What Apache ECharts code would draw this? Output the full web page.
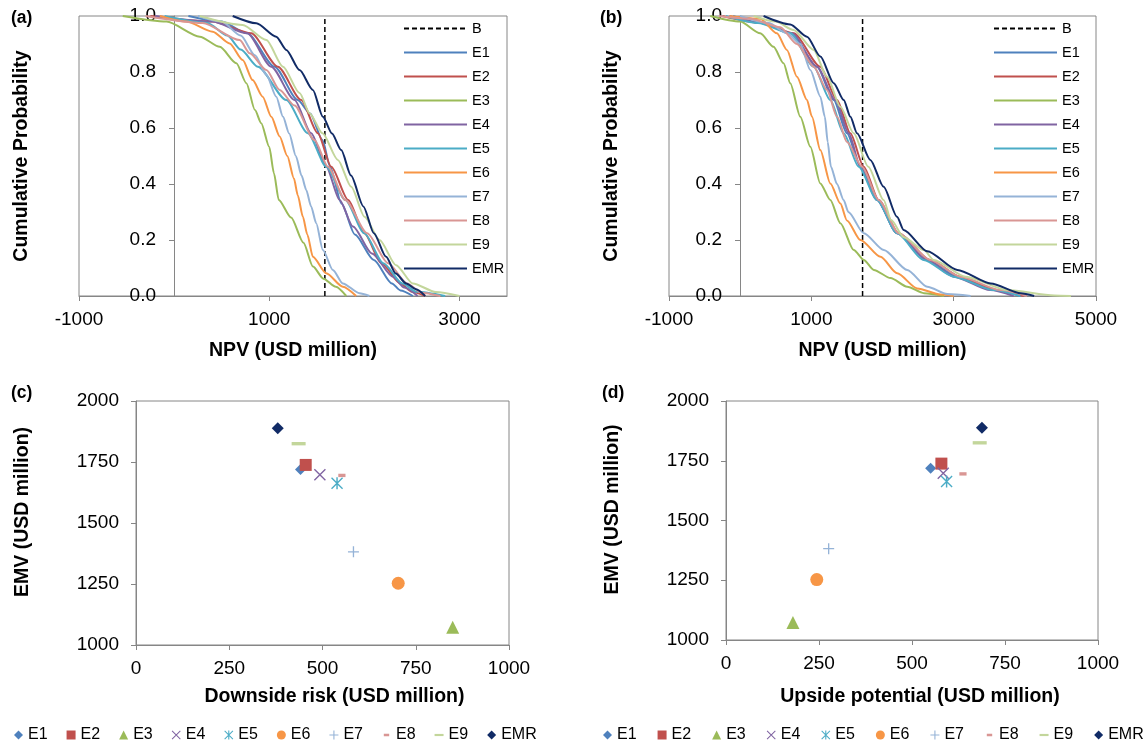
<!DOCTYPE html>
<html>
<head>
<meta charset="utf-8">
<script src="https://cdn.jsdelivr.net/npm/echarts@6/dist/echarts.min.js"></script>
<style>
  html, body { margin: 0; padding: 0; background: #fff; }
  #main { width: 1148px; height: 747px; }
</style>
</head>
<body>
<div id="main"></div>
<script>
const chart = echarts.init(document.getElementById('main'))

// series names and colours (Excel 2007 palette)
const names = ['E1', 'E2', 'E3', 'E4', 'E5', 'E6', 'E7', 'E8', 'E9', 'EMR']
const colors = ['#4F81BD', '#C0504D', '#9BBB59', '#8064A2', '#4BACC6', '#F79646', '#95B3D7', '#D99694', '#C3D69B', '#112B66']

// baseline NPV (dashed line B)
const baseA = 1585
const baseB = 1720

// panel (a): [NPV, cumulative probability]
const aE1 = [[150, 1], [500, 0.98], [770, 0.938], [1056, 0.819], [1300, 0.7], [1430, 0.652], [1560, 0.557], [1640, 0.462], [1760, 0.33], [1900, 0.22], [2100, 0.129], [2290, 0.045], [2380, 0.02], [2510, 0]]
const aE2 = [[-250, 1], [400, 0.98], [811, 0.938], [1091, 0.819], [1336, 0.7], [1511, 0.581], [1652, 0.462], [1830, 0.343], [2000, 0.224], [2180, 0.117], [2380, 0.045], [2500, 0.015], [2640, 0]]
const aE3 = [[-540, 1], [-80, 0.98], [270, 0.926], [480, 0.89], [655, 0.831], [760, 0.76], [850, 0.664], [916, 0.617], [1000, 0.533], [1050, 0.438], [1100, 0.343], [1230, 0.28], [1360, 0.19], [1460, 0.105], [1570, 0.062], [1700, 0.033], [1810, 0]]
const aE4 = [[-200, 1], [400, 0.98], [770, 0.938], [1021, 0.819], [1266, 0.7], [1441, 0.581], [1600, 0.462], [1740, 0.343], [1880, 0.248], [2080, 0.152], [2300, 0.069], [2420, 0.03], [2560, 0]]
const aE5 = [[-100, 1], [350, 0.975], [560, 0.93], [700, 0.88], [880, 0.819], [1180, 0.7], [1406, 0.581], [1600, 0.462], [1800, 0.343], [2000, 0.224], [2200, 0.117], [2400, 0.045], [2550, 0.015], [2850, 0]]
const aE6 = [[-150, 1], [130, 0.98], [406, 0.944], [584, 0.902], [721, 0.843], [826, 0.771], [931, 0.712], [1022, 0.64], [1110, 0.57], [1190, 0.5], [1260, 0.42], [1300, 0.36], [1354, 0.283], [1400, 0.22], [1459, 0.14], [1599, 0.081], [1774, 0.033], [1914, 0]]
const aE7 = [[250, 1], [500, 0.98], [700, 0.93], [850, 0.86], [970, 0.79], [1074, 0.712], [1145, 0.64], [1210, 0.58], [1280, 0.5], [1340, 0.43], [1389, 0.379], [1440, 0.32], [1494, 0.26], [1564, 0.164], [1669, 0.093], [1774, 0.045], [1949, 0.01], [2054, 0]]
const aE8 = [[-300, 1], [300, 0.975], [690, 0.914], [795, 0.867], [970, 0.807], [1110, 0.736], [1266, 0.68], [1476, 0.557], [1617, 0.462], [1800, 0.343], [2030, 0.224], [2250, 0.117], [2450, 0.045], [2600, 0.012], [2800, 0]]
const aE9 = [[270, 1], [721, 0.968], [970, 0.914], [1145, 0.819], [1319, 0.725], [1424, 0.653], [1560, 0.581], [1722, 0.486], [1862, 0.39], [2002, 0.283], [2160, 0.2], [2334, 0.11], [2509, 0.045], [2753, 0.014], [3000, 0]]
const aEMR = [[616, 1], [865, 0.974], [1074, 0.926], [1180, 0.879], [1319, 0.807], [1459, 0.736], [1564, 0.64], [1660, 0.58], [1757, 0.521], [1860, 0.43], [1990, 0.32], [2100, 0.224], [2229, 0.14], [2330, 0.08], [2440, 0.045], [2544, 0.024], [2640, 0]]

// panel (b)
const bE1 = [[-100, 1], [300, 0.975], [705, 0.938], [1080, 0.819], [1314, 0.7], [1501, 0.581], [1689, 0.462], [1923, 0.343], [2204, 0.224], [2625, 0.129], [3047, 0.069], [3562, 0.021], [3937, 0]]
const bE2 = [[-250, 1], [300, 0.975], [752, 0.938], [1126, 0.819], [1361, 0.7], [1548, 0.581], [1735, 0.462], [1946, 0.343], [2227, 0.224], [2672, 0.129], [3094, 0.069], [3609, 0.021], [3984, 0]]
const bE3 = [[-420, 1], [0, 0.98], [282, 0.938], [469, 0.89], [610, 0.831], [704, 0.76], [845, 0.64], [986, 0.533], [1126, 0.402], [1267, 0.343], [1408, 0.26], [1596, 0.164], [1737, 0.129], [1878, 0.093], [2113, 0.064], [2347, 0.033], [2582, 0.01], [2864, 0]]
const bE4 = [[-150, 1], [300, 0.975], [728, 0.938], [1080, 0.819], [1337, 0.7], [1525, 0.581], [1689, 0.462], [1923, 0.343], [2204, 0.224], [2625, 0.129], [3000, 0.069], [3515, 0.021], [3843, 0]]
const bE5 = [[-200, 1], [250, 0.975], [705, 0.938], [1033, 0.819], [1267, 0.7], [1454, 0.581], [1665, 0.462], [1923, 0.343], [2204, 0.224], [2578, 0.129], [3000, 0.069], [3562, 0.021], [3937, 0]]
const bE6 = [[-150, 1], [282, 0.99], [517, 0.938], [657, 0.879], [798, 0.783], [939, 0.7], [1009, 0.64], [1126, 0.521], [1267, 0.402], [1408, 0.33], [1500, 0.27], [1690, 0.2], [1972, 0.14], [2207, 0.081], [2488, 0.027], [2817, 0.005], [3000, 0]]
const bE7 = [[0, 1], [400, 0.975], [660, 0.938], [845, 0.9], [986, 0.807], [1127, 0.712], [1190, 0.64], [1230, 0.55], [1275, 0.462], [1360, 0.4], [1454, 0.343], [1520, 0.3], [1737, 0.224], [2019, 0.164], [2347, 0.093], [2629, 0.033], [2911, 0.007], [3239, 0]]
const bE8 = [[-300, 1], [141, 0.99], [563, 0.96], [798, 0.9], [1033, 0.819], [1221, 0.736], [1361, 0.64], [1501, 0.55], [1712, 0.462], [1946, 0.343], [2227, 0.224], [2672, 0.129], [3094, 0.069], [3656, 0.021], [4030, 0]]
const bE9 = [[190, 1], [500, 0.98], [751, 0.95], [1033, 0.879], [1221, 0.783], [1408, 0.676], [1595, 0.581], [1800, 0.462], [2016, 0.343], [2120, 0.271], [2300, 0.21], [2582, 0.164], [2719, 0.129], [3170, 0.069], [3756, 0.021], [4413, 0.002], [4648, 0]]
const bEMR = [[329, 1], [704, 0.97], [939, 0.926], [1127, 0.855], [1315, 0.76], [1455, 0.7], [1549, 0.64], [1642, 0.581], [1829, 0.486], [2016, 0.39], [2204, 0.283], [2297, 0.236], [2629, 0.16], [3052, 0.093], [3521, 0.045], [3944, 0.01], [4131, 0]]

// panels (c) and (d), order E1..E9, EMR
const emv = [1719, 1738, 1073, 1698, 1663, 1253, 1382, 1695, 1825, 1888]
const downside = [441, 455, 849, 493, 539, 703, 583, 552, 436, 380]
const upside = [550, 579, 180, 584, 593, 244, 276, 637, 682, 688]

const curvesA = [aE1, aE2, aE3, aE4, aE5, aE6, aE7, aE8, aE9, aEMR]
const curvesB = [bE1, bE2, bE3, bE4, bE5, bE6, bE7, bE8, bE9, bEMR]

// marker shapes
const symX = 'path://M0,0.8L0.8,0L10,9.2L9.2,10Z M9.2,0L10,0.8L0.8,10L0,9.2Z'
const symStar = symX + ' M4.4,0L5.6,0L5.6,10L4.4,10Z'
const symPlus = 'path://M4.4,0h1.2v4.4h4.4v1.2h-4.4v4.4h-1.2v-4.4h-4.4v-1.2h4.4z'
const symDashS = 'path://M0,0M10,10M2,3.6h6v2.8h-6z'
const symDashL = 'path://M0,0M10,10M0,3.8h10v2.4h-10z'
const symbols = ['diamond', 'rect', 'triangle', symX, symStar, 'circle', symPlus, symDashS, symDashL, 'diamond']
const symSizes = [11, 12, 13, 12, 12, 13, 11, 12, 14, 12]

const font = 'Liberation Sans, Arial, sans-serif'
const axisGray = '#868686'
const strip = n => n.slice(2)

const series = []
function addCurves (p, curves, base, idx) {
  series.push({
    name: p + 'B', type: 'line', xAxisIndex: idx, yAxisIndex: idx,
    data: [[base, 0], [base, 1]], symbol: 'none',
    lineStyle: { color: '#000', width: 1.5, type: [5, 3] },
    itemStyle: { color: '#000' }
  })
  curves.forEach((c, i) => {
    series.push({
      name: p + names[i], type: 'line', xAxisIndex: idx, yAxisIndex: idx,
      data: c, symbol: 'none', smooth: 0.25, smoothMonotone: 'x',
      lineStyle: { color: colors[i], width: 2 },
      itemStyle: { color: colors[i] }
    })
  })
}
function addPoints (p, xs, idx) {
  names.forEach((n, i) => {
    series.push({
      name: p + n, type: 'scatter', xAxisIndex: idx, yAxisIndex: idx,
      data: [[xs[i], emv[i]]], symbol: symbols[i], symbolSize: symSizes[i],
      itemStyle: { color: colors[i], opacity: 1 }
    })
  })
}
addCurves('a:', curvesA, baseA, 0)
addCurves('b:', curvesB, baseB, 1)
addPoints('c:', downside, 2)
addPoints('d:', upside, 3)

const labelStyle = { fontSize: 19, color: '#000', fontFamily: font }
const nameStyle = { fontSize: 19.5, fontWeight: 'bold', color: '#000', fontFamily: font }
const lineAxis = { lineStyle: { color: axisGray, width: 1 } }
const tick = { length: 5, lineStyle: { color: axisGray } }

function npvAxis (idx, max) {
  return {
    type: 'value', gridIndex: idx, min: -1000, max: max, interval: 2000,
    name: 'NPV (USD million)', nameLocation: 'middle', nameGap: 45, nameTextStyle: nameStyle,
    axisLine: lineAxis, axisTick: tick, splitLine: { show: false },
    axisLabel: Object.assign({ margin: 14, showMaxLabel: max === 5000, formatter: v => String(v) }, labelStyle)
  }
}
// y axis sits at NPV = 0, so it is shifted inside the plot box
function probAxis (idx, shift, gap) {
  return {
    type: 'value', gridIndex: idx, min: 0, max: 1, interval: 0.2, offset: -shift,
    name: 'Cumulative Probability', nameLocation: 'middle', nameRotate: 90, nameGap: gap, nameTextStyle: nameStyle,
    axisLine: Object.assign({ onZero: false }, lineAxis), axisTick: tick, splitLine: { show: false },
    axisLabel: Object.assign({ margin: 18, formatter: v => v.toFixed(1) }, labelStyle)
  }
}
function riskAxis (idx, name, gap, shift) {
  return {
    type: 'value', gridIndex: idx, min: 0, max: 1000, interval: 250,
    name: name, nameLocation: 'middle', nameGap: gap,
    nameTextStyle: Object.assign({ padding: [0, 0, 0, shift] }, nameStyle),
    axisLine: lineAxis, axisTick: tick, splitLine: { show: false },
    axisLabel: Object.assign({ margin: 14, formatter: v => String(v) }, labelStyle)
  }
}
function emvAxis (idx, gap) {
  return {
    type: 'value', gridIndex: idx, min: 1000, max: 2000, interval: 250,
    name: 'EMV (USD million)', nameLocation: 'middle', nameRotate: 90, nameGap: gap,
    nameTextStyle: Object.assign({ padding: [0, 0, 0, 22] }, nameStyle),
    axisLine: lineAxis, axisTick: tick, splitLine: { show: false },
    axisLabel: Object.assign({ margin: 17, formatter: v => String(v) }, labelStyle)
  }
}

function panelTitle (t, left, top) {
  return { text: t, left: left, top: top, padding: 0, textStyle: { fontSize: 17.5, fontWeight: 'bold', color: '#000', fontFamily: font } }
}
function lineLegend (p, left) {
  return {
    orient: 'vertical', left: left, top: 21, padding: 0, itemWidth: 63, itemHeight: 14, itemGap: 9,
    selectedMode: false, data: ['B'].concat(names).map(n => p + n), formatter: strip,
    itemStyle: { opacity: 0 },
    textStyle: { fontSize: 14.5, color: '#000', fontFamily: font }
  }
}
function pointLegend (p, left, gap) {
  return {
    orient: 'horizontal', left: left, top: 727, padding: 0, itemWidth: 9, itemHeight: 9, itemGap: gap,
    selectedMode: false, data: names.map(n => p + n), formatter: strip,
    textStyle: { fontSize: 16, color: '#000', fontFamily: font }
  }
}

const gridBox = { show: true, borderColor: axisGray, borderWidth: 1, backgroundColor: 'transparent', outerBoundsMode: 'none', containLabel: false }

const option = {
  animation: false,
  textStyle: { fontFamily: font },
  title: [
    panelTitle('(a)', 11, 9),
    panelTitle('(b)', 600, 9),
    panelTitle('(c)', 11, 384),
    panelTitle('(d)', 602, 384)
  ],
  legend: [
    lineLegend('a:', 403),
    lineLegend('b:', 993),
    pointLegend('c:', 14, 19),
    pointLegend('d:', 603, 21)
  ],
  grid: [
    Object.assign({ left: 79, top: 16, width: 428, height: 280 }, gridBox),
    Object.assign({ left: 669, top: 16, width: 427, height: 280 }, gridBox),
    Object.assign({ left: 136, top: 401, width: 373, height: 244 }, gridBox),
    Object.assign({ left: 726, top: 401, width: 372, height: 239 }, gridBox)
  ],
  xAxis: [
    npvAxis(0, 3500),
    npvAxis(1, 5000),
    riskAxis(2, 'Downside risk (USD million)', 42, 24),
    riskAxis(3, 'Upside potential (USD million)', 47, 16)
  ],
  yAxis: [
    probAxis(0, 95, 142),
    probAxis(1, 71, 118),
    emvAxis(2, 103),
    emvAxis(3, 103)
  ],
  series: series
}
chart.setOption(option)
</script>
</body>
</html>
